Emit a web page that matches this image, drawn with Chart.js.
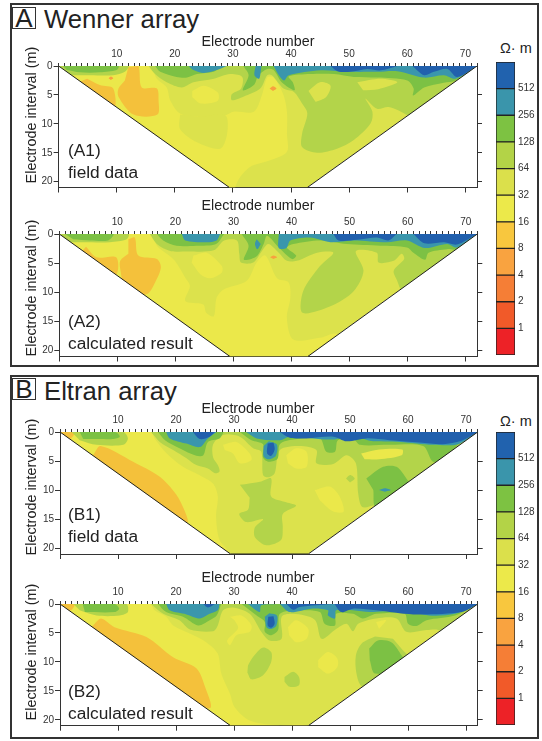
<!DOCTYPE html>
<html>
<head>
<meta charset="utf-8">
<script src="https://cdn.jsdelivr.net/npm/chart.js@4"></script>
<style>
  body { margin: 0; background: #fff; font-family: "Liberation Sans", Arial, sans-serif; color: #222; }
  #page { position: relative; width: 542px; height: 741px; overflow: hidden; }
  #page canvas { position: absolute; }
  .frame { position: absolute; border: 2px solid #333; box-sizing: border-box; }
  .badge { position: absolute; border: 1px solid #333; box-sizing: border-box; font-size: 26px; line-height: 21px; text-align: center; }
  .txt { position: absolute; white-space: nowrap; }
  .xtitle { position: absolute; white-space: nowrap; font-size: 14.3px; transform: translate(-50%, -50%); }
  .ytitle { position: absolute; white-space: nowrap; font-size: 14.4px; transform: translate(-50%, -50%) rotate(-90deg); }
</style>
</head>
<body>
<div id="page"></div>
<script>
// shape of the pseudosection: electrode number, electrode interval (m)
const sectionOutline = [[0, 0], [29.4, 21], [42.8, 21], [72, 0]];
const xMax = 72;
const yMax = 21;

const legendLabels = [1, 2, 4, 8, 16, 32, 64, 128, 256, 512];
const legendBands = [[0.5, 1], [1, 2], [2, 4], [4, 8], [8, 16], [16, 32], [32, 64], [64, 128], [128, 256], [256, 512], [512, 1024]];
const legendColors = ['#ed2227', '#f15a29', '#f57e36', '#f9a340', '#f8c73e', '#ece94a', '#dbe04b', '#b3d347', '#7dc242', '#3a95ab', '#2162ae'];

// contour polygons, one list per colour class
const a1Yellow = [
  [[0, 0], [15.7, 0], [16.9, 2.2], [18.6, 3.7], [19.2, 5.9], [20.9, 8.2], [24.4, 8.8], [28.7, 8.5], [30.1, 7.9], [33.6, 7.9], [35, 5], [35.9, 2], [37, 2], [38.7, 5], [39.3, 8], [39.3, 11.7], [39.3, 14.8], [36.4, 16.3], [33, 17.4], [31.3, 19.1], [30.4, 21], [30, 24], [0, 24]],
  [[23, 4.3], [25, 3.4], [27.4, 4.6], [27.4, 6], [24.5, 6.5], [23, 5.4]]
];
const a1Pale = [
  [[20.9, 8.4], [20.9, 10.9], [23.8, 13.2], [27.8, 14.3], [29, 11.7], [28.7, 8.5], [24.4, 8.8]]
];
const a1Amber = [
  [[4.9, 2.2], [7.1, 3.3], [9.4, 3.9], [9.4, 8], [4, 8], [3, 3]],
  [[12, 0.2], [13.7, 0], [14.3, 3.7], [16.9, 3.9], [17.2, 5.9], [17, 8.4], [12.9, 8.4], [10.3, 5.3], [10.3, 3.9], [11.4, 2.5]]
];
const a1Orange = [
  [[8.6, 2.1], [9, 1.8], [9.4, 2.1], [9, 2.4]],
  [[36.3, 3.9], [36.9, 3.5], [37.5, 3.9], [36.9, 4.3]]
];
const a1Light = [
  [[0, 0], [12, 0], [11.4, 1], [9.4, 1.6], [5.4, 1.6], [2.2, 1.6]],
  [[15.5, 0], [16.6, 1.4], [18.6, 2.8], [21.2, 3.7], [23.2, 2.8], [26.7, 2.2], [29.5, 1.4], [31.6, 1.9], [31.4, 3.9], [29.8, 4.9], [29.8, 5.9], [31.8, 5.3], [34.7, 3.9], [35.9, 1.6], [36.7, 1.6], [38.7, 3.9], [40.5, 4.5], [41.9, 6.5], [42.8, 8.2], [41.9, 11.7], [41.9, 14], [44.5, 15], [47.9, 14.3], [50.8, 12.8], [53.7, 9.9], [54, 7.9], [52.8, 5.6], [54.8, 7.4], [56.8, 7.1], [60, 8.5], [64.6, 11.7], [72, 0]]
];
// holes of the next colour down, cut back into the light green
const a1Island = [
  [[43, 4.3], [45, 2.8], [46.8, 3.4], [46, 5.4], [44.2, 6.2]],
  [[51.4, 2.8], [55.4, 2.2], [58.3, 2.8], [55, 4], [52.4, 4.2]]
];
const a1Green = [
  [[0.8, 0], [10.3, 0], [10, 0.7], [7.1, 1.1], [3.7, 1.1], [1.4, 0.7]],
  [[16.6, 0], [17.5, 1], [20.3, 1.9], [22.1, 2], [23.8, 1.4], [26.7, 1], [28.1, 0]],
  [[31.8, 0], [32.7, 1.6], [31.7, 4.2], [33.6, 3.3], [34.4, 1.6], [35.9, 0.5], [37, 0.7], [38.4, 2.8], [40.6, 4.2], [40.3, 2.8], [39.6, 1.8], [43.3, 1.4], [47.4, 1.4], [50.8, 1.9], [54.8, 2], [60, 2.5], [61.1, 3.9], [61, 5.1], [62.9, 3.7], [66.3, 2.9], [68.3, 2.5], [72, 0]]
];
const a1Teal = [
  [[22.4, 0], [23.2, 0.7], [25, 1.2], [27.2, 0.7], [28.9, 0]],
  [[33.9, 0], [33.7, 1.6], [34.5, 2.2], [34.8, 0.8], [34.9, 0]],
  [[37, 0], [37.9, 1.6], [38.8, 2.5], [39.6, 1.6], [45.1, 0.75], [49.6, 1], [54.8, 1], [58.3, 0.9], [62.9, 2], [66.3, 1.6], [68.3, 2.2], [72, 0]]
];
const a1Blue = [
  [[46.8, 0], [48, 0.9], [50.2, 1], [53.1, 0.5], [55.4, 0.75], [58.3, 0]],
  [[60.9, 0], [62.9, 1.6], [64.6, 1], [66.9, 0.5], [68.6, 1.9], [72, 0]]
];

const a2Yellow = [
  [[0, 0], [15.9, 0], [16.8, 2], [18.5, 3.4], [19.9, 4.6], [21.7, 7.5], [22.5, 8.9], [21.7, 11.5], [24.8, 12.1], [25.3, 13.5], [26.6, 14.1], [27.1, 10.9], [28.3, 9.5], [32.3, 8], [34, 4.9], [35.5, 3.7], [37.5, 7.6], [39.5, 8.3], [39.8, 10.9], [39.2, 14.4], [40.3, 18.1], [44.9, 17.8], [47.8, 17.1], [53, 20], [47, 25], [0, 25]],
  [[23.1, 3.7], [25.4, 3.2], [28, 5.5], [28, 6.6], [26, 7.6], [24.3, 6.9], [22.8, 4.9]]
];
const a2Pale = [];
const a2Amber = [
  [[4.6, 2.2], [6.4, 4], [9.8, 4], [9.8, 7], [6, 8], [3, 4]],
  [[11.9, 0.9], [13, 0.6], [13.6, 3.7], [16.8, 4.3], [17.5, 5.7], [16.5, 8.3], [15.1, 10.3], [11.6, 10.3], [10.5, 6], [10.5, 4.6], [11.9, 3.4]]
];
const a2Orange = [
  [[36.3, 4], [36.9, 3.7], [37.5, 4], [36.9, 4.3]]
];
const a2Light = [
  [[0, 0], [11.9, 0], [11.6, 0.9], [8.7, 1.4], [4.1, 1.4], [1.8, 1.4]],
  [[15.6, 0], [16.8, 1.7], [19.1, 2.9], [22, 3], [26.6, 2.8], [28.4, 1.1], [30.6, 1.1], [31, 3.4], [31.3, 4.9], [33.4, 4.9], [34.9, 2.9], [36, 1.7], [37.8, 3.2], [39.2, 4.6], [40.9, 4.6], [44.4, 3.2], [47.2, 3.2], [44.9, 5.5], [42, 9.8], [41.9, 13.5], [46.7, 12.4], [50.7, 9.8], [52.4, 6.3], [51.1, 2.9], [54.7, 3.2], [55, 4.9], [57.6, 4.6], [59, 3.4], [59.4, 4.3], [57.6, 6.3], [58.2, 8], [59, 9.8], [64.5, 15.5], [72, 0]]
];
const a2Island = [];
const a2Green = [
  [[1, 0], [9.3, 0], [8.4, 1.1], [5.3, 1.1], [2.4, 0.9]],
  [[16.8, 0], [17.9, 1.1], [20.2, 2], [23.6, 2], [27, 1.7], [28.4, 0]],
  [[31.4, 0], [32.6, 2], [31.8, 4.4], [34, 3.8], [35.2, 1.7], [35.8, 0.3], [37.8, 2.3], [40.1, 4.3], [40.8, 3.7], [39.2, 2.3], [40.3, 1.7], [44.9, 1.1], [49.5, 1.7], [55.3, 2], [59.9, 2.3], [61, 3.2], [63, 4.4], [63.6, 3.2], [66.8, 2.6], [68.5, 2.6], [72, 0]]
];
const a2Teal = [
  [[21.1, 0], [21.7, 1.1], [25.4, 1.4], [27.1, 1.1], [27.7, 0]],
  [[34, 0.9], [33.7, 1.7], [34.1, 2.6], [34.7, 1.7]],
  [[37.8, 0], [37.8, 2.4], [39.1, 2.4], [39.8, 1.1], [43.2, 0.6], [46.7, 1.4], [50.7, 1.1], [56.4, 1.4], [59.9, 1.1], [63, 2.4], [66.8, 1.7], [68.5, 2.3], [72, 0]]
];
const a2Blue = [
  [[47.2, 0], [48.1, 1.1], [51.3, 1], [54.7, 0.6], [56.7, 1.1], [58.1, 0]],
  [[61, 0], [62.9, 1.6], [66.3, 1.4], [68.5, 1.8], [72, 0]]
];

const b1Yellow = [
  [[0, 0], [15.7, 0], [16.3, 1.1], [18.4, 3.7], [21.2, 6], [24, 7.4], [26.4, 8.9], [27.2, 11.1], [26.9, 14.5], [27.5, 18.6], [29.3, 21], [29, 24], [0, 24]],
  [[43.9, 10], [46.5, 9.4], [48.2, 11.1], [48.9, 13.7], [47.1, 13.7], [44.8, 11.8]],
  [[28.1, 2.2], [30.4, 1.7], [32.7, 3.7], [33, 4.8], [31, 5.4], [29.8, 3.7], [28.4, 3.1]]
];
const b1Pale = [];
const b1Amber = [
  [[0, 0], [2.5, 0], [1.9, 1.1], [0, 2]],
  [[5.7, 4], [7, 2.4], [12.6, 5.1], [17.2, 7.7], [20, 10.7], [21.5, 13.6], [21.9, 15.7], [15, 15], [3, 6]]
];
const b1Orange = [];
const b1Light = [
  [[2, 0], [10.9, 0], [11.7, 1.1], [10.9, 2.2], [6.3, 2.2], [3.4, 1.4]],
  [[15.7, 0], [17.2, 1.7], [19.5, 3.1], [21.8, 4.5], [23.5, 5.7], [25.5, 6.3], [26.7, 7.1], [27.5, 6.8], [27.2, 5.7], [26.4, 4.4], [26.4, 2.1], [28.1, 0.5], [31, 0.8], [33.3, 2.8], [34.7, 3.4], [35, 7.4], [35.9, 7.8], [37, 7.1], [37.9, 3.1], [41.3, 2.4], [44.2, 3.1], [44.2, 5.4], [47.1, 5.5], [49.4, 4], [51, 5.4], [51.4, 10.6], [52.1, 12.9], [54.5, 12.6], [64.3, 13.4], [72, 0]],
  [[31, 9.1], [34.7, 8.5], [36.4, 8], [36.4, 11.1], [39, 12.1], [40.7, 12.7], [38.4, 14.1], [38.4, 16.4], [38.1, 18.6], [35.6, 19.5], [33.6, 18.1], [33.6, 16.4], [35, 15], [32.1, 15.5], [30.9, 14.1], [32.4, 13.4], [32.7, 11.3]],
  [[49.3, 8], [50, 7.4], [50.8, 8], [50, 8.7]]
];
const b1Island = [
  [[39, 4], [40.7, 2.8], [42.5, 3.4], [42.5, 6], [40.7, 6.3], [39.3, 5.4]],
  [[51.9, 3.7], [55, 3], [59, 3], [58.9, 4], [55, 4.7], [52.5, 4.7]]
];
const b1Green = [
  [[3.4, 0], [9.5, 0], [10.3, 0.8], [9.1, 1.2], [6.8, 1.2], [4, 1.2]],
  [[16.9, 0], [18.1, 1.4], [20.6, 2.8], [23.5, 4.1], [24.7, 4], [25.5, 1.7], [27.5, 1.1], [28.2, 0]],
  [[31, 0], [33, 1.4], [35, 2.1], [35, 4.4], [35.9, 5.1], [37.5, 4.6], [37.9, 2.1], [40.2, 1.3], [44.8, 1.1], [45.9, 3.4], [47.4, 3.4], [47.9, 1.4], [50.5, 1.1], [51.7, 2.2], [56.8, 2.2], [62.6, 2.4], [64.3, 5.1], [66.6, 4.3], [68.6, 2.2], [72, 0]],
  [[52.8, 8], [55.7, 6], [58, 6], [60, 8.4], [62, 11], [54.5, 13], [54, 10]]
];
const b1Teal = [
  [[18.3, 0], [18.9, 1.1], [21.8, 2], [24.1, 2.6], [25.5, 1.1], [27, 0]],
  [[32.1, 0], [33.9, 1.1], [37.9, 1.4], [39.6, 0.8], [47, 1.3], [50.5, 0.5], [53.4, 1.5], [58.6, 1.7], [64.3, 2.2], [68.6, 2.1], [72, 0]],
  [[35.1, 2.4], [35.1, 4.2], [36, 4.7], [37.2, 4.1], [37.4, 2.2], [36, 1.6]],
  [[55, 10], [56, 9.7], [57, 10], [56, 10.3]]
];
const b1Blue = [
  [[37.9, 0], [39.6, 1], [42.5, 1.1], [47.1, 0.8], [49.4, 1.6], [52.8, 1.1], [56.8, 1.4], [62, 1.8], [66, 2.1], [69.2, 1.5], [72, 0]],
  [[22.9, 0], [24.1, 1.2], [25.8, 0.8], [26.7, 0]],
  [[35.8, 2], [35.7, 3.7], [36.4, 4.1], [37, 3], [36.8, 1.8]]
];

const b2Yellow = [
  [[0, 0], [15.5, 0], [16.3, 1.1], [18.3, 2.2], [19.5, 3.7], [22.4, 5.1], [25.2, 6.6], [27.2, 8.6], [27.8, 12], [29.3, 15.5], [30.1, 17.8], [32.7, 20.1], [37.3, 20.9], [43, 21], [43, 23], [0, 23]],
  [[29.3, 2.2], [31.3, 2], [33, 3.7], [32.7, 4.8], [30.4, 5.4], [29.3, 7.1], [28.8, 6.3], [30.7, 4.2], [30.1, 2.8]],
  [[44.5, 9.7], [46.2, 8.3], [47.8, 9.4], [47.8, 10.9], [46.2, 12], [44.5, 10.9]],
  [[54.5, 3.1], [56.2, 2.8], [55, 4.3]],
  [[39.3, 4], [40.7, 2.8], [42.8, 4.3], [42.5, 6], [40.7, 6.6], [39.5, 5.4]]
];
const b2Pale = [];
const b2Amber = [
  [[0, 0], [2.5, 0], [1.9, 1.1], [0, 2]],
  [[5.7, 3.7], [7.1, 2.5], [9.4, 4], [14.9, 5.7], [19.5, 9.2], [23.5, 11.1], [25, 14.3], [25.8, 18], [15, 15], [4, 6]]
];
const b2Orange = [];
const b2Light = [
  [[2.3, 0], [11.4, 0], [11.7, 1.4], [10.3, 2], [6.3, 2], [3.4, 1.1]],
  [[15.7, 0], [17.8, 1.7], [20.6, 2.8], [22.4, 4.4], [26.4, 4.7], [27.2, 3.7], [28.1, 1.1], [29.8, 0.6], [32.7, 1.7], [34.7, 4.8], [36.1, 6.3], [38.2, 6], [38.2, 2.2], [40.2, 1.7], [43.9, 2.7], [45.1, 6], [47.6, 4.3], [49.4, 3.4], [50.5, 4.7], [51.4, 3.4], [54.5, 2.5], [58, 2.5], [59.7, 4.8], [63.2, 4.5], [65.2, 4.5], [70, 6.8], [72, 0]],
  [[54.3, 5.6], [52, 6.8], [51, 8.9], [51.1, 12], [52, 14.2], [55.7, 15.5], [60.3, 9.7], [59.1, 8], [57.4, 6]],
  [[32.4, 10.6], [33.3, 9.1], [35, 7.5], [36.4, 8.3], [36.4, 10], [35, 12.3], [33, 13], [32.3, 11.8]],
  [[38.7, 12.6], [40.2, 11.7], [41.2, 12.6], [41.2, 14], [39.6, 14.3], [38.7, 13.4]]
];
const b2Island = [];
const b2Green = [
  [[3.9, 0], [9.4, 0], [10.2, 0.8], [9.4, 1.4], [4.3, 1.4]],
  [[16.9, 0], [18.3, 1.4], [21.2, 2.2], [23.8, 3.7], [25.8, 2.8], [27, 2], [27.8, 0]],
  [[31.3, 0], [33.9, 2], [35.3, 3.1], [35.3, 4.8], [36.4, 5.4], [37.6, 4.5], [37.9, 1.7], [41.3, 1.1], [44.8, 1.4], [45.6, 3.4], [47.4, 3.7], [47.6, 1.7], [50.5, 1.7], [52.2, 2.5], [54.5, 1.7], [59.4, 1.7], [60, 3.4], [61.4, 3.8], [63.2, 2.8], [68.1, 2], [72, 0]],
  [[53.3, 7.7], [54.8, 6.3], [57.1, 6.6], [58.9, 8.9], [60, 11], [54.3, 12], [53.4, 9.7]]
];
const b2Teal = [
  [[18.3, 0], [18.9, 1.1], [21.8, 1.8], [24.1, 2.5], [25.8, 1.7], [27.2, 1.1], [27.5, 0]],
  [[32.4, 0], [34.4, 1.4], [34.7, 0.2], [37.6, 0]],
  [[37.9, 0], [39.6, 1.4], [43.3, 0.8], [46.2, 1.1], [46.2, 2], [47.4, 2.5], [47.6, 1.1], [50.5, 1.1], [53.4, 1.4], [59.4, 1.1], [63.6, 2], [68.1, 1.7], [72, 0]],
  [[35.3, 2.2], [35.6, 4], [36.4, 4.3], [37.3, 3.7], [37.4, 2], [36.1, 1.6]]
];
const b2Blue = [
  [[24.7, 0], [25.5, 0.6], [26.7, 0]],
  [[39, 0], [40.2, 1], [41.3, 0.5], [47, 0]],
  [[47.3, 0], [48.5, 1.4], [50.5, 0.8], [54.5, 1.1], [60.9, 1.8], [69.2, 1.4], [72, 0]],
  [[35.9, 2.2], [35.8, 3.7], [36.4, 4.1], [37, 3.4], [36.8, 2.1]]
];

const PALE = '#dce24c', YELLOW = '#ebe84a', AMBER = '#f4c13b', ORANGE = '#f7a13f';
const LIGHT = '#b3d44a', GREEN = '#7cc144', TEAL = '#3a96ac', BLUE = '#2160ad';
const FONT = '"Liberation Sans", Arial, sans-serif';

const page = document.getElementById('page');

function addDiv(cls, css, text) {
  const d = document.createElement('div');
  d.className = cls;
  d.style.cssText = css;
  if (text) d.textContent = text;
  page.appendChild(d);
  return d;
}

// fills each closed contour from the points and curves the library has computed
const contourFill = {
  id: 'contourFill',
  beforeDatasetsDraw(chart) {
    const ctx = chart.ctx;
    const section = chart.getDatasetMeta(0).dataset;
    ctx.save();
    ctx.beginPath();
    section.path(ctx);
    ctx.closePath();
    ctx.clip();
    chart.data.datasets.forEach((ds, i) => {
      const line = chart.getDatasetMeta(i).dataset;
      line.updateControlPoints(chart.chartArea);
      ctx.beginPath();
      line.path(ctx);
      ctx.closePath();
      ctx.fillStyle = ds.backgroundColor;
      ctx.fill();
    });
    ctx.restore();
  }
};

function toPoints(poly) {
  return poly.map(p => ({ x: p[0], y: p[1] }));
}

function contourSets(polys, color) {
  return polys.map(poly => ({
    data: toPoints(poly),
    showLine: true,
    tension: 0.3,
    pointRadius: 0,
    borderColor: 'transparent',
    backgroundColor: color
  }));
}

function drawPanel(p) {
  const canvasLeft = 30, canvasRight = 484;
  const topH = 37, bottomH = 8;
  const canvas = document.createElement('canvas');
  const h = Math.round(topH + p.plotH + bottomH);
  canvas.width = canvasRight - canvasLeft;
  canvas.height = h;
  canvas.style.left = canvasLeft + 'px';
  canvas.style.top = (p.top - topH) + 'px';
  page.appendChild(canvas);

  const datasets = [{
    data: toPoints(sectionOutline),
    showLine: true,
    pointRadius: 0,
    borderColor: '#222',
    borderWidth: 1,
    backgroundColor: PALE
  }].concat(
    contourSets(p.yellow, YELLOW), contourSets(p.pale, PALE), contourSets(p.amber, AMBER), contourSets(p.orange, ORANGE),
    contourSets(p.light, LIGHT), contourSets(p.island, p.islandColor), contourSets(p.green, GREEN),
    contourSets(p.teal, TEAL), contourSets(p.blue, BLUE)
  );

  const tickFont = { family: FONT, size: 10 };
  const line = { color: '#333', width: 1 };

  new Chart(canvas, {
    type: 'scatter',
    data: { datasets: datasets },
    plugins: [contourFill],
    options: {
      responsive: false,
      animation: false,
      layout: { padding: 0 },
      plugins: { legend: { display: false }, tooltip: { enabled: false } },
      scales: {
        x: {
          position: 'top', min: 0, max: xMax,
          border: line,
          grid: { drawOnChartArea: false, color: '#333', tickLength: 3 },
          ticks: {
            stepSize: 1, autoSkip: false, maxRotation: 0, padding: 3, color: '#333', font: tickFont,
            callback: v => (v > 0 && v % 10 === 0) ? v : ''
          },
          afterFit: s => { s.height = topH; }
        },
        x2: {
          position: 'bottom', min: 0, max: xMax,
          border: line,
          grid: { drawOnChartArea: false, color: '#333', tickLength: 5 },
          ticks: { stepSize: 10, includeBounds: false, display: false },
          afterFit: s => { s.height = h - topH - p.plotH; }
        },
        y: {
          position: 'left', reverse: true, min: 0, max: yMax,
          border: line,
          grid: { drawOnChartArea: false, color: '#333', tickLength: 5 },
          ticks: { stepSize: 5, includeBounds: false, padding: 1, color: '#333', font: tickFont },
          afterFit: s => { s.width = p.plotLeft - canvasLeft; }
        },
        y2: {
          position: 'right', reverse: true, min: 0, max: yMax,
          border: line,
          grid: { drawOnChartArea: false, color: '#333', tickLength: 5 },
          ticks: { stepSize: 5, includeBounds: false, display: false },
          afterBuildTicks: s => { s.ticks = s.ticks.filter(t => t.value > 0); },
          afterFit: s => { s.width = canvasRight - p.plotRight; }
        }
      }
    }
  });

  addDiv('xtitle', `left:258px;top:${p.xTitleY}px`, 'Electrode number');
  addDiv('ytitle', `left:31px;top:${p.yTitleY}px`, 'Electrode interval (m)');
  addDiv('txt', `left:68px;top:${p.noteY - 10}px;font-size:17.3px;line-height:20px`, p.note);
  addDiv('txt', `left:68px;top:${p.noteY + 12}px;font-size:17.3px;line-height:20px`, p.result);
}

function drawLegend(top) {
  const canvas = document.createElement('canvas');
  const padY = 3;
  canvas.width = 46;
  canvas.height = 293 + padY * 2;
  canvas.style.left = '495px';
  canvas.style.top = (top - padY) + 'px';
  page.appendChild(canvas);

  new Chart(canvas, {
    type: 'bar',
    data: {
      labels: ['resistivity'],
      datasets: legendBands.map((band, i) => ({
        data: [band],
        backgroundColor: legendColors[i],
        borderColor: '#222',
        borderWidth: 1,
        borderSkipped: false,
        grouped: false,
        barPercentage: 1,
        categoryPercentage: 1
      }))
    },
    options: {
      responsive: false,
      animation: false,
      layout: { padding: { left: 1, top: padY, bottom: padY } },
      plugins: { legend: { display: false }, tooltip: { enabled: false } },
      scales: {
        x: { display: false },
        y: {
          type: 'logarithmic', position: 'right', min: 0.5, max: 1024,
          border: { display: false },
          grid: { display: false, drawTicks: false },
          ticks: {
            padding: 3, color: '#333', autoSkip: false,
            font: { family: FONT, size: 10 },
            callback: v => v
          },
          afterBuildTicks: s => { s.ticks = legendLabels.map(v => ({ value: v })); },
          afterFit: s => { s.width = 26; s.paddingTop = 0; s.paddingBottom = 0; }
        }
      }
    }
  });
}

// frames and headings
addDiv('frame', 'left:10px;top:3px;width:529px;height:364px');
addDiv('frame', 'left:10px;top:375px;width:529px;height:364px');
addDiv('badge', 'left:12px;top:7px;width:24px;height:22px', 'A');
addDiv('badge', 'left:12px;top:378px;width:24px;height:22px', 'B');
addDiv('txt', 'left:44px;top:4px;font-size:25.7px;line-height:30px', 'Wenner array');
addDiv('txt', 'left:44px;top:376px;font-size:25.7px;line-height:30px', 'Eltran array');
addDiv('txt', 'left:500px;top:39px;font-size:14.5px;line-height:18px', 'Ω· m');
addDiv('txt', 'left:500px;top:412px;font-size:14.5px;line-height:18px', 'Ω· m');

drawPanel({
  top: 66, plotH: 121.5, plotLeft: 58.6, plotRight: 477, xTitleY: 41, yTitleY: 115,
  noteY: 150, note: '(A1)', result: 'field data', islandColor: PALE,
  yellow: a1Yellow, pale: a1Pale, amber: a1Amber, orange: a1Orange, light: a1Light, island: a1Island, green: a1Green, teal: a1Teal, blue: a1Blue
});
drawPanel({
  top: 233.5, plotH: 122.5, plotLeft: 59.3, plotRight: 477.3, xTitleY: 205, yTitleY: 288,
  noteY: 321, note: '(A2)', result: 'calculated result', islandColor: PALE,
  yellow: a2Yellow, pale: a2Pale, amber: a2Amber, orange: a2Orange, light: a2Light, island: a2Island, green: a2Green, teal: a2Teal, blue: a2Blue
});
drawPanel({
  top: 432, plotH: 122, plotLeft: 60, plotRight: 477.7, xTitleY: 408, yTitleY: 487,
  noteY: 514, note: '(B1)', result: 'field data', islandColor: YELLOW,
  yellow: b1Yellow, pale: b1Pale, amber: b1Amber, orange: b1Orange, light: b1Light, island: b1Island, green: b1Green, teal: b1Teal, blue: b1Blue
});
drawPanel({
  top: 604, plotH: 121.7, plotLeft: 60, plotRight: 477.7, xTitleY: 577, yTitleY: 652,
  noteY: 690.7, note: '(B2)', result: 'calculated result', islandColor: YELLOW,
  yellow: b2Yellow, pale: b2Pale, amber: b2Amber, orange: b2Orange, light: b2Light, island: b2Island, green: b2Green, teal: b2Teal, blue: b2Blue
});

drawLegend(62);
drawLegend(432);
</script>
</body>
</html>
